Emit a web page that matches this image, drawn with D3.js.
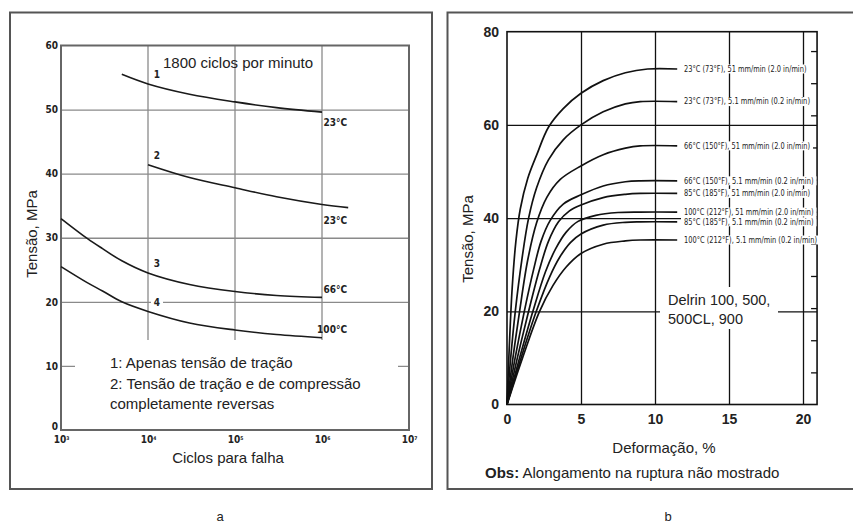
<!DOCTYPE html>
<html>
<head>
<meta charset="utf-8">
<script src="https://cdn.jsdelivr.net/npm/d3@7"></script>
<style>
  body { margin: 0; background: #fff; }
  svg { display: block; font-family: "Liberation Sans", Arial, sans-serif; }
  .narrow { font-family: "Liberation Sans Narrow", "DejaVu Sans Condensed", sans-serif; font-weight: bold; }
</style>
</head>
<body>
<div id="vis"></div>
<script>
/* ---- panel a : fatigue (cycles, MPa) ---- */
const cycleTicks = [1e3, 1e4, 1e5, 1e6, 1e7];
const cycleExponents = ["3", "4", "5", "6", "7"];
const fatigueStressTicks = [0, 10, 20, 30, 40, 50, 60];
const fatigue1 = [[5000, 55.5], [10000, 54], [30000, 52.4], [100000, 51.2], [300000, 50.3], [1000000, 49.6]];
const fatigue2 = [[10000, 41.4], [30000, 39.4], [100000, 37.8], [300000, 36.4], [1000000, 35.2], [2000000, 34.7]];
const fatigue3 = [[1000, 33], [2000, 29.9], [3000, 28.3], [5000, 26.4], [10000, 24.5], [30000, 22.7], [100000, 21.6], [300000, 21], [1000000, 20.7]];
const fatigue4 = [[1000, 25.5], [2000, 23], [3000, 21.7], [5000, 20], [10000, 18.5], [30000, 16.7], [100000, 15.6], [300000, 14.9], [1000000, 14.4]];
const fatigueNumbers = ["1", "2", "3", "4"];
const fatigueTemps = ["23°C", "23°C", "66°C", "100°C"];
const fatigueNotes = ["1: Apenas tensão de tração", "2: Tensão de tração e de compressão", "completamente reversas"];

/* ---- panel b : stress-strain (%, MPa) ---- */
const strainTicks = [0, 5, 10, 15, 20];
const stressTicks = [0, 20, 40, 60, 80];
const psiTicks = [1, 2, 3, 4, 5, 6, 7, 8, 9, 10, 11];   // right edge, thousand psi
const ss1 = [[0, 0], [0.15, 12], [0.35, 25], [0.6, 35], [0.9, 42], [1.4, 48.5], [2, 53.5], [2.8, 59.5], [3.8, 63.5], [5, 66.8], [6.5, 69.5], [8, 71.2], [9.5, 72], [11.5, 72]];
const ss2 = [[0, 0], [0.25, 10], [0.56, 20], [1, 31], [1.46, 40], [2, 46.5], [2.8, 52.5], [3.8, 56.8], [5, 60], [6.5, 62.8], [8, 64.5], [9, 65], [11.5, 65]];
const ss3 = [[0, 0], [0.4, 10], [0.85, 20], [1.4, 31], [2, 39], [2.7, 44.5], [3.6, 48.3], [5, 51.2], [6.5, 53.6], [8, 55], [9, 55.5], [11.5, 55.5]];
const ss4 = [[0, 0], [0.55, 10], [1.17, 20], [1.8, 29], [2.3, 35], [2.92, 39.5], [3.8, 43], [5, 45], [6.5, 46.9], [8, 47.8], [9, 48], [11.5, 48]];
const ss5 = [[0, 0], [0.7, 10], [1.46, 20], [2.2, 29], [2.8, 35], [3.48, 39.2], [4.2, 41.5], [5, 42.8], [6.5, 44.4], [8, 45.1], [9, 45.3], [11.5, 45.3]];
const ss6 = [[0, 0], [0.85, 10], [1.75, 20], [2.6, 28.5], [3.3, 33.5], [4, 37], [4.8, 39.3], [6, 40.6], [7.5, 41.2], [9, 41.3], [11.5, 41.3]];
const ss7 = [[0, 0], [0.95, 10], [1.98, 20], [2.9, 27.5], [3.6, 31.8], [4.3, 34.8], [5, 36.6], [6.5, 38.5], [8, 39.1], [9, 39.2], [11.5, 39.2]];
const ss8 = [[0, 0], [1.05, 10], [2.2, 20], [3.1, 25.5], [4, 29.5], [5, 32.4], [6.5, 34.4], [8, 35.1], [9, 35.3], [11.5, 35.3]];
const ssLabels = [
    "23°C (73°F), 51 mm/min (2.0 in/min)",
    "23°C (73°F), 5.1 mm/min (0.2 in/min)",
    "66°C (150°F), 51 mm/min (2.0 in/min)",
    "66°C (150°F), 5.1 mm/min (0.2 in/min)",
    "85°C (185°F), 51 mm/min (2.0 in/min)",
    "100°C (212°F), 51 mm/min (2.0 in/min)",
    "85°C (185°F), 5.1 mm/min (0.2 in/min)",
    "100°C (212°F), 5.1 mm/min (0.2 in/min)"
];
const delrinText = ["Delrin 100, 500,", "500CL, 900"];

function createCharts() {
    const w = 853;
    const h = 526;

    var svg = d3.select("#vis")
        .append("svg")
        .attr("width", w)
        .attr("height", h);

    /* OUTER FRAMES */
    svg.append("rect")
        .attr("x", 10).attr("y", 12.5).attr("width", 422).attr("height", 476.5)
        .style("fill", "none").style("stroke", "#555").style("stroke-width", 2);
    svg.append("rect")
        .attr("x", 447.5).attr("y", 12.5).attr("width", 420).attr("height", 476.5)
        .style("fill", "none").style("stroke", "#555").style("stroke-width", 2);

    createFatigue(svg);
    createStrain(svg);

    svg.append("text").attr("x", 220).attr("y", 521)
        .style("text-anchor", "middle").style("font-size", "13px").style("fill", "#222").text("a");
    svg.append("text").attr("x", 668).attr("y", 521)
        .style("text-anchor", "middle").style("font-size", "13px").style("fill", "#222").text("b");
}

function createFatigue(svg) {
    const xScale = d3.scaleLog().domain([1e3, 1e7]).range([61, 409]);
    const yScale = d3.scaleLinear().domain([0, 60]).range([430, 45.5]);
    const g = svg.append("g");

    /* GRID */
    g.append("g")
        .attr("class", "grid")
        .attr("transform", "translate(61,0)")
        .call(d3.axisLeft(yScale).tickValues(fatigueStressTicks.slice(1, -1)).tickSize(-348).tickFormat(""))
        .call(s => s.select(".domain").remove())
        .selectAll("line").style("stroke", "#8a8a8a").style("stroke-width", 1.3);

    g.append("g")
        .selectAll("line")
        .data(cycleTicks.slice(1, -1))
        .enter()
        .append("line")
        .attr("x1", d => xScale(d)).attr("x2", d => xScale(d))
        .attr("y1", yScale(60)).attr("y2", 340)
        .style("stroke", "#8a8a8a").style("stroke-width", 1.3);

    /* white box behind the notes cuts the grid */
    g.append("rect")
        .attr("x", 75).attr("y", 340).attr("width", 323).attr("height", 80)
        .style("fill", "#fff");

    /* FRAME */
    g.append("rect")
        .attr("x", 61).attr("y", yScale(60)).attr("width", 348).attr("height", yScale(0) - yScale(60))
        .style("fill", "none").style("stroke", "#666").style("stroke-width", 2);

    /* AXES LABELS */
    const yAxis = g.append("g")
        .attr("transform", "translate(61,0)")
        .call(d3.axisLeft(yScale).tickValues(fatigueStressTicks).tickSize(0).tickPadding(3));
    yAxis.select(".domain").remove();
    yAxis.selectAll("text")
        .attr("class", "narrow")
        .style("font-size", "10px").style("fill", "#222");
    yAxis.selectAll(".tick").filter(d => d === 0).select("text").attr("y", -4);

    const xAxis = g.append("g")
        .attr("transform", "translate(0,430)")
        .call(d3.axisBottom(xScale).tickValues(cycleTicks).tickSize(0).tickFormat(""));
    xAxis.select(".domain").remove();
    xAxis.selectAll(".tick").each(function(d, i) {
        const t = d3.select(this).append("text")
            .attr("class", "narrow")
            .attr("y", 13)
            .style("text-anchor", "middle")
            .style("font-size", "10px")
            .style("fill", "#222");
        t.append("tspan").text("10");
        t.append("tspan").attr("dy", -3).style("font-size", "5px").text(cycleExponents[i]);
    });

    /* CURVES */
    const curves = [fatigue1, fatigue2, fatigue3, fatigue4];
    const line = d3.line()
        .x(d => xScale(d[0]))
        .y(d => yScale(d[1]))
        .curve(d3.curveCatmullRom.alpha(0.5));

    g.append("g")
        .selectAll("path")
        .data(curves)
        .enter()
        .append("path")
        .attr("d", line)
        .style("fill", "none")
        .style("stroke", "#1a1a1a")
        .style("stroke-width", 1.6);

    /* curve numbers at 10^4 */
    curves.forEach(function(c, i) {
        const p = c.find(d => d[0] === 1e4);
        const x = xScale(1e4) + 9;
        const y = yScale(p[1]) - 9;
        g.append("rect").attr("x", x - 6).attr("y", y - 5).attr("width", 12).attr("height", 10)
            .style("fill", "#fff");
        g.append("text")
            .attr("class", "narrow")
            .attr("x", x).attr("y", y)
            .attr("dy", "0.35em")
            .style("text-anchor", "middle")
            .style("font-size", "10px").style("fill", "#222")
            .text(fatigueNumbers[i]);
    });

    /* temperatures at 10^6 */
    const tempDy = [10, 16.5, -8, -8];
    curves.forEach(function(c, i) {
        const p = c.find(d => d[0] === 1e6);
        g.append("text")
            .attr("class", "narrow")
            .attr("x", xScale(1e6) + 25)
            .attr("y", yScale(p[1]) + tempDy[i])
            .attr("dy", "0.35em")
            .style("text-anchor", "end")
            .style("font-size", "10px").style("fill", "#222")
            .text(fatigueTemps[i]);
    });

    /* TEXT */
    g.append("text")
        .attr("x", 163).attr("y", 68)
        .style("font-size", "15px").style("fill", "#222")
        .text("1800 ciclos por minuto");

    g.selectAll(".note")
        .data(fatigueNotes)
        .enter()
        .append("text")
        .attr("class", "note")
        .attr("x", 110)
        .attr("y", (d, i) => 368 + i * 20.5)
        .style("font-size", "15px").style("fill", "#222")
        .text(d => d);

    g.append("text")
        .attr("transform", "translate(37,234) rotate(-90)")
        .style("text-anchor", "middle")
        .style("font-size", "15px").style("fill", "#222")
        .text("Tensão, MPa");

    g.append("text")
        .attr("x", 228).attr("y", 463)
        .style("text-anchor", "middle")
        .style("font-size", "15px").style("fill", "#222")
        .text("Ciclos para falha");
}

function createStrain(svg) {
    const xScale = d3.scaleLinear().domain([0, 20]).range([507, 803]);
    const yScale = d3.scaleLinear().domain([0, 80]).range([404.5, 31.7]);
    const psiScale = d3.scaleLinear().domain([0, 80 / 6.895]).range([404.5, 31.7]);
    const xMax = 20.95;
    const g = svg.append("g");

    /* GRID */
    g.append("g")
        .attr("transform", "translate(" + xScale(0) + ",0)")
        .call(d3.axisLeft(yScale).tickValues([20, 40, 60]).tickSize(-(xScale(xMax) - xScale(0))).tickFormat(""))
        .call(s => s.select(".domain").remove())
        .selectAll("line").style("stroke", "#111").style("stroke-width", 1.3);

    g.append("g")
        .attr("transform", "translate(0," + yScale(0) + ")")
        .call(d3.axisBottom(xScale).tickValues([5, 10, 15, 20]).tickSize(-(yScale(0) - yScale(80))).tickFormat(""))
        .call(s => s.select(".domain").remove())
        .selectAll("line").style("stroke", "#111").style("stroke-width", 1.3);

    /* psi ticks on the right edge */
    g.append("g")
        .attr("transform", "translate(" + xScale(xMax) + ",0)")
        .call(d3.axisLeft(psiScale).tickValues(psiTicks).tickSize(6).tickFormat(""))
        .call(s => s.select(".domain").remove())
        .selectAll("line").style("stroke", "#111").style("stroke-width", 1.3);

    /* Delrin note, white box cuts the 20 MPa line */
    g.append("rect")
        .attr("x", 660).attr("y", 287).attr("width", 118).attr("height", 42)
        .style("fill", "#fff");
    g.selectAll(".delrin")
        .data(delrinText)
        .enter()
        .append("text")
        .attr("class", "delrin")
        .attr("x", 668)
        .attr("y", (d, i) => 305 + i * 19)
        .style("font-size", "14.5px").style("fill", "#222")
        .text(d => d);

    /* FRAME */
    g.append("rect")
        .attr("x", xScale(0)).attr("y", yScale(80))
        .attr("width", xScale(xMax) - xScale(0)).attr("height", yScale(0) - yScale(80))
        .style("fill", "none").style("stroke", "#111").style("stroke-width", 1.6);

    /* AXES LABELS */
    const yAxis = g.append("g")
        .attr("transform", "translate(" + xScale(0) + ",0)")
        .call(d3.axisLeft(yScale).tickValues(stressTicks).tickSize(0).tickPadding(8));
    yAxis.select(".domain").remove();
    yAxis.selectAll("text")
        .style("font-size", "14px").style("font-weight", "bold").style("fill", "#222")
        .style("font-family", "'Liberation Sans', Arial, sans-serif");

    const xAxis = g.append("g")
        .attr("transform", "translate(0," + yScale(0) + ")")
        .call(d3.axisBottom(xScale).tickValues(strainTicks).tickSize(0).tickPadding(10));
    xAxis.select(".domain").remove();
    xAxis.selectAll("text")
        .style("font-size", "14px").style("font-weight", "bold").style("fill", "#222")
        .style("font-family", "'Liberation Sans', Arial, sans-serif");

    /* CURVES */
    const curves = [ss1, ss2, ss3, ss4, ss5, ss6, ss7, ss8];
    const line = d3.line()
        .x(d => xScale(d[0]))
        .y(d => yScale(d[1]))
        .curve(d3.curveCatmullRom.alpha(0.5));

    g.append("g")
        .selectAll("path")
        .data(curves)
        .enter()
        .append("path")
        .attr("d", line)
        .style("fill", "none")
        .style("stroke", "#111")
        .style("stroke-width", 1.7);

    /* curve labels */
    curves.forEach(function(c, i) {
        const last = c[c.length - 1];
        const y = yScale(last[1]);
        const len = ssLabels[i].length * 3.5;
        g.append("rect")
            .attr("x", 681).attr("y", y - 4.5).attr("width", len + 6).attr("height", 9)
            .style("fill", "#fff");
        g.append("text")
            .attr("x", 684)
            .attr("y", y)
            .attr("dy", "0.35em")
            .attr("textLength", len)
            .attr("lengthAdjust", "spacingAndGlyphs")
            .style("font-family", "'Liberation Sans Narrow', 'DejaVu Sans Condensed', sans-serif")
            .style("font-size", "8px").style("fill", "#222")
            .text(ssLabels[i]);
    });

    /* TEXT */
    g.append("text")
        .attr("transform", "translate(473,239) rotate(-90)")
        .style("text-anchor", "middle")
        .style("font-size", "15px").style("fill", "#222")
        .text("Tensão, MPa");

    g.append("text")
        .attr("x", 664).attr("y", 453)
        .style("text-anchor", "middle")
        .style("font-size", "15px").style("fill", "#222")
        .text("Deformação, %");

    const obs = g.append("text")
        .attr("x", 485).attr("y", 478)
        .style("font-size", "15px").style("fill", "#222");
    obs.append("tspan").style("font-weight", "bold").text("Obs:");
    obs.append("tspan").text(" Alongamento na ruptura não mostrado");
}

function main() {
    createCharts();
}

main();
</script>
</body>
</html>
